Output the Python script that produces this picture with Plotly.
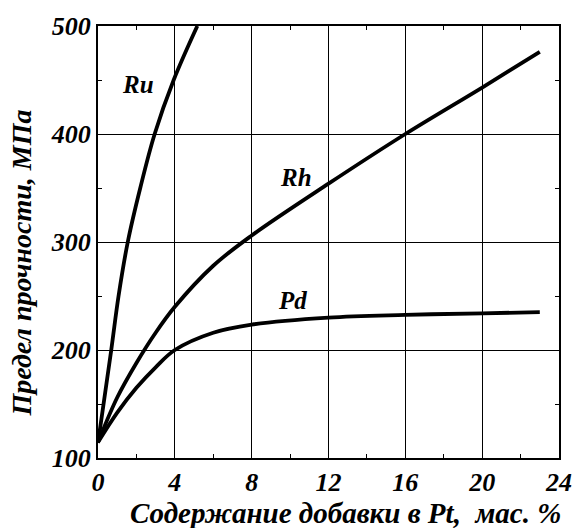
import plotly.graph_objects as go

# Data
ru_x = [0, 0.69, 1.07, 1.55, 2.2, 2.95, 3.94, 5.17]
ru_y = [114, 200, 250, 300, 350, 400, 450, 500]

rh_x = [0, 1, 2, 3, 4, 6, 8, 12, 16, 20, 23]
rh_y = [114.5, 156, 188, 216, 240, 278, 306, 354, 400, 443, 476]

pd_x = [0, 1, 2, 3, 4, 6, 8, 12, 16, 20, 23]
pd_y = [114.5, 142, 165, 184, 200, 216, 223.5, 230, 232.5, 234, 235]

labels = ["Ru", "Rh", "Pd"]
label_x = [2.1, 10.3, 10.1]
label_y = [446, 360, 246]

x_ticks = [0, 4, 8, 12, 16, 20, 24]
y_ticks = [100, 200, 300, 400, 500]

FONT = "Liberation Serif"
BI = dict(family=FONT, color="black", weight="bold", style="italic")

fig = go.Figure()
for xs, ys in [(ru_x, ru_y), (rh_x, rh_y), (pd_x, pd_y)]:
    fig.add_trace(go.Scatter(x=xs, y=ys, mode="lines",
                             line=dict(color="black", width=3.8, shape="spline", smoothing=1.0),
                             showlegend=False, hoverinfo="skip"))

for t, xx, yy in zip(labels, label_x, label_y):
    fig.add_annotation(x=xx, y=yy, text=t, showarrow=False, font=dict(size=25, **BI))

# axis titles
fig.add_annotation(xref="paper", yref="paper", x=0.537, y=0, yanchor="middle", yshift=-55,
                   text="Содержание добавки в Pt,\u00a0 мас. %", showarrow=False,
                   font=dict(size=29, **BI))
fig.add_annotation(xref="paper", yref="paper", x=0, y=0.45, xanchor="center", yanchor="middle",
                   xshift=-76, textangle=-90,
                   text="Предел прочности, МПа", showarrow=False,
                   font=dict(size=28, **BI))

axis_common = dict(showgrid=True, gridcolor="black", gridwidth=1,
                   showline=True, linecolor="black", linewidth=2, mirror="ticks",
                   ticks="inside", ticklen=0, zeroline=False,
                   tickfont=dict(size=26, **BI))

fig.update_xaxes(range=[0, 24], tickvals=x_ticks,
                 minor=dict(dtick=2, tick0=0, ticks="inside", ticklen=4, tickcolor="black", showgrid=False),
                 **axis_common)
fig.update_yaxes(range=[100, 500], tickvals=y_ticks,
                 minor=dict(dtick=50, tick0=100, ticks="inside", ticklen=4, tickcolor="black", showgrid=False),
                 **axis_common)

fig.update_layout(width=584, height=528, margin=dict(l=98, r=17, t=23, b=70),
                  plot_bgcolor="white", paper_bgcolor="white")

fig.write_html("out.html")
